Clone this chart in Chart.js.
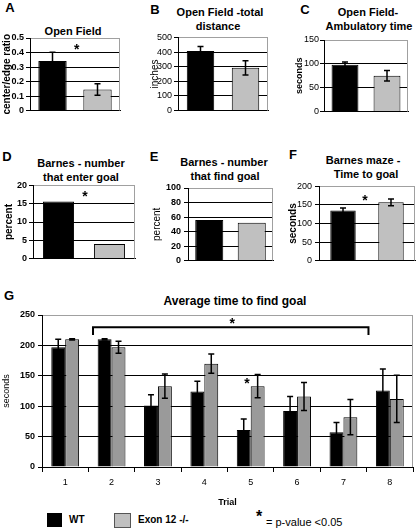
<!DOCTYPE html>
<html><head><meta charset="utf-8">
<script src="https://cdn.jsdelivr.net/npm/chart.js@4.4.1/dist/chart.umd.min.js"></script>
<style>
html,body{margin:0;padding:0;background:#fff;}
body{width:416px;height:530px;position:relative;overflow:hidden;font-family:"Liberation Sans",Arial,sans-serif;color:#000;}
canvas{position:absolute;}
.t{position:absolute;font-weight:bold;font-size:11px;white-space:nowrap;transform:translate(-50%,-50%);line-height:13px;}
.L{position:absolute;font-weight:bold;font-size:13px;transform:translate(-50%,-50%);line-height:14px;}
.lg{position:absolute;font-weight:bold;font-size:10px;white-space:nowrap;transform:translateY(-50%);line-height:12px;}
.sw{position:absolute;}
</style></head><body>

<div class="L" style="left:10px;top:8px">A</div>
<div class="L" style="left:155px;top:10px">B</div>
<div class="L" style="left:305px;top:10px">C</div>
<div class="L" style="left:7px;top:157px">D</div>
<div class="L" style="left:154px;top:157px">E</div>
<div class="L" style="left:293px;top:155px">F</div>
<div class="L" style="left:9px;top:296px">G</div>

<div class="t" style="left:73px;top:31px">Open Field</div>
<div class="t" style="left:220px;top:12px">Open Field -total</div>
<div class="t" style="left:218px;top:26px">distance</div>
<div class="t" style="left:368px;top:12px">Open Field-</div>
<div class="t" style="left:369px;top:26px">Ambulatory time</div>
<div class="t" style="left:81px;top:163px">Barnes - number</div>
<div class="t" style="left:81px;top:177px">that enter goal</div>
<div class="t" style="left:224px;top:162px">Barnes - number</div>
<div class="t" style="left:225px;top:176px">that find goal</div>
<div class="t" style="left:363px;top:160px">Barnes maze -</div>
<div class="t" style="left:366px;top:174px">Time to goal</div>
<div class="t" style="left:235px;top:301px;font-size:12px">Average time to find goal</div>

<canvas id="cA"></canvas>
<canvas id="cB"></canvas>
<canvas id="cC"></canvas>
<canvas id="cD"></canvas>
<canvas id="cE"></canvas>
<canvas id="cF"></canvas>
<canvas id="cG"></canvas>

<div class="sw" style="left:47px;top:513px;width:15px;height:14px;background:#000"></div>
<div class="lg" style="left:69px;top:520px">WT</div>
<div class="sw" style="left:114px;top:513px;width:15px;height:13px;background:#c0c0c0;border:1px solid #555"></div>
<div class="lg" style="left:138px;top:520px">Exon 12 -/-</div>
<div class="lg" style="left:256px;top:517px;font-size:16px;line-height:16px">*</div>
<div class="lg" style="left:266px;top:522px;font-size:11px;font-weight:normal">= p-value &lt;0.05</div>

<script>
// ---------------- data ----------------
const groups = ['WT', 'Exon 12 -/-'];

const openFieldRatio = [0.342, 0.145];
const openFieldRatioErr = [0.06, 0.04];

const openFieldDistance = [407, 292];
const openFieldDistanceErr = [31, 48];

const ambulatoryTime = [98, 75];
const ambulatoryTimeErr = [6, 11];

const barnesEnterGoal = [15.6, 4.0];

const barnesFindGoal = [56, 52];

const barnesTimeToGoal = [135, 157];
const barnesTimeToGoalErr = [7, 9];

const trials = ['1', '2', '3', '4', '5', '6', '7', '8'];
const wtTrialTime  = [197, 210, 101, 124, 61, 92, 57, 126];
const wtTrialErr   = [13, 1, 18, 17, 18, 24, 16, 35];
const koTrialTime  = [210, 197, 133, 170, 133, 116, 82, 112];
const koTrialErr   = [1, 10, 20, 16, 19, 23, 29, 39];

// significance marks: [category index position, value]
const starA = [[0.54, 0.44]];
const starD = [[0.52, 17.7]];
const starF = [[0.46, 169]];
const starG = [[3.6, 241], [3.92, 142]];
const bracketG = { from: 0.6, to: 6.54, level: 230, hook: 217 };

// ---------------- drawing ----------------
Chart.defaults.font.family = '"Liberation Sans", Arial, sans-serif';
Chart.defaults.color = '#000';
Chart.defaults.animation = false;

const BLACK = '#000000', LIGHT = '#c0c0c0', MID = '#9a9a9a', FRAME = '#a0a0a0';

function extras(cfg) {
  return {
    id: 'extras',
    afterDatasetsDraw(chart) {
      const { ctx, chartArea: a, scales: { x, y } } = chart;
      ctx.save();
      ctx.strokeStyle = FRAME; ctx.lineWidth = 1;
      ctx.beginPath(); ctx.moveTo(a.right - 0.5, a.top); ctx.lineTo(a.right - 0.5, a.bottom); ctx.stroke();
      ctx.strokeStyle = '#000';
      const cap = cfg.cap || 3;
      (cfg.errors || []).forEach((errArr, di) => {
        if (!errArr) return;
        const meta = chart.getDatasetMeta(di);
        const vals = chart.data.datasets[di].data;
        meta.data.forEach((bar, j) => {
          const e = errArr[j];
          if (e === undefined) return;
          const yt = y.getPixelForValue(vals[j] + e), yb = y.getPixelForValue(vals[j] - e);
          ctx.lineWidth = 1.5;
          ctx.beginPath();
          ctx.moveTo(bar.x, yt); ctx.lineTo(bar.x, yb);
          ctx.moveTo(bar.x - cap, yt); ctx.lineTo(bar.x + cap, yt);
          ctx.moveTo(bar.x - cap, yb); ctx.lineTo(bar.x + cap, yb);
          ctx.stroke();
        });
      });
      const p0 = x.getPixelForValue(0), p1 = x.getPixelForValue(1);
      const idxPx = i => p0 + i * (p1 - p0);
      (cfg.stars || []).forEach(s => {
        const size = cfg.starSize || 14;
        ctx.fillStyle = '#000';
        ctx.font = 'bold ' + size + 'px "Liberation Sans", Arial, sans-serif';
        ctx.textAlign = 'center'; ctx.textBaseline = 'middle';
        ctx.fillText('*', idxPx(s[0]), y.getPixelForValue(s[1]) + size * 0.23);
      });
      if (cfg.bracket) {
        const b = cfg.bracket;
        const x1 = idxPx(b.from), x2 = idxPx(b.to);
        const yl = y.getPixelForValue(b.level), yh = y.getPixelForValue(b.hook);
        ctx.lineWidth = 2; ctx.strokeStyle = '#000';
        ctx.beginPath();
        ctx.moveTo(x1, yh); ctx.lineTo(x1, yl); ctx.lineTo(x2, yl); ctx.lineTo(x2, yh);
        ctx.stroke();
      }
      ctx.restore();
    }
  };
}

function place(id, box) {
  const cv = document.getElementById(id);
  const w = box.cr - box.cl, h = box.cb - box.ct;
  cv.width = w; cv.height = h;
  cv.style.left = box.cl + 'px'; cv.style.top = box.ct + 'px';
  cv.style.width = w + 'px'; cv.style.height = h + 'px';
  return cv;
}

function yGrid(max) {
  return {
    color: c => (c.tick && Math.abs(c.tick.value - max) < 1e-9) ? FRAME : '#000',
    tickColor: '#000', tickLength: 4, lineWidth: 1
  };
}

function smallPanel(id, box, values, errs, o) {
  const cv = place(id, box);
  const tsz = o.titleSize || 9;
  const lh = tsz * 1.2;
  new Chart(cv, {
    type: 'bar',
    data: {
      labels: groups,
      datasets: [{ data: values, backgroundColor: [BLACK, LIGHT], borderColor: '#000', borderWidth: 1,
                   barPercentage: o.bp, categoryPercentage: 1 }]
    },
    options: {
      responsive: false, animation: false, events: [],
      layout: { autoPadding: false, padding: { left: 0, top: box.t - box.ct, right: box.cr - box.r, bottom: box.cb - box.b } },
      plugins: { legend: { display: false }, tooltip: { enabled: false } },
      scales: {
        x: { grid: { display: false }, ticks: { display: false }, border: { color: '#000', width: 1 },
             afterFit: s => { s.height = 0; } },
        y: { min: 0, max: o.max,
             ticks: { stepSize: o.step, font: { size: 9, weight: o.tickBold ? 'bold' : 'normal' }, padding: o.tp },
             grid: yGrid(o.max), border: { color: '#000', width: 1 },
             title: { display: true, text: o.title, font: { size: tsz, weight: o.titleBold ? 'bold' : 'normal' },
                      padding: { top: o.titleX - box.cl - lh / 2, bottom: 0 } },
             afterFit: s => { s.width = box.l - box.cl; } }
      }
    },
    plugins: [extras({ errors: errs ? [errs] : [], stars: o.stars, cap: 3, starSize: 14 })]
  });
}

smallPanel('cA', { cl: 0, ct: 30, cr: 124, cb: 118, l: 30, t: 38, r: 120, b: 116 },
  openFieldRatio, openFieldRatioErr,
  { max: 0.5, step: 0.1, bp: 0.63, tp: 2, tickBold: true, title: 'center/edge ratio', titleSize: 10, titleBold: true, titleX: 7, stars: starA });

smallPanel('cB', { cl: 135, ct: 30, cr: 272, cb: 118, l: 178, t: 37, r: 268, b: 116 },
  openFieldDistance, openFieldDistanceErr,
  { max: 500, step: 100, bp: 0.61, tp: 2, title: 'inches', titleSize: 10, titleX: 155 });

smallPanel('cC', { cl: 270, ct: 30, cr: 412, cb: 118, l: 324, t: 40, r: 408, b: 115 },
  ambulatoryTime, ambulatoryTimeErr,
  { max: 150, step: 50, bp: 0.64, tp: 1, title: 'seconds', titleBold: true, titleX: 300 });

smallPanel('cD', { cl: 0, ct: 178, cr: 139, cb: 266, l: 33, t: 185, r: 135, b: 264 },
  barnesEnterGoal, null,
  { max: 20, step: 5, bp: 0.61, tp: 2, tickBold: true, title: 'percent', titleSize: 10, titleBold: true, titleX: 9, stars: starD });

smallPanel('cE', { cl: 135, ct: 178, cr: 276, cb: 269, l: 188, t: 188, r: 273, b: 267 },
  barnesFindGoal, null,
  { max: 100, step: 20, bp: 0.66, tp: 3, tickBold: true, title: 'percent', titleSize: 10, titleX: 157 });

smallPanel('cF', { cl: 270, ct: 178, cr: 416, cb: 269, l: 319, t: 183, r: 415, b: 267 },
  barnesTimeToGoal, barnesTimeToGoalErr,
  { max: 200, step: 50, bp: 0.53, tp: 3, title: 'seconds', titleSize: 10, titleBold: true, titleX: 293, stars: starF });

// Panel G
(function () {
  const box = { cl: 0, ct: 300, cr: 416, cb: 508, l: 42, t: 315, r: 413, b: 467 };
  const xH = 41;
  const cv = place('cG', box);
  new Chart(cv, {
    type: 'bar',
    data: {
      labels: trials,
      datasets: [
        { label: 'WT', data: wtTrialTime, backgroundColor: BLACK, borderColor: '#000', borderWidth: 1 },
        { label: 'Exon 12 -/-', data: koTrialTime, backgroundColor: MID, borderColor: '#000', borderWidth: 1 }
      ]
    },
    options: {
      responsive: false, animation: false, events: [],
      datasets: { bar: { categoryPercentage: 0.6, barPercentage: 1 } },
      layout: { autoPadding: false, padding: { left: 0, top: box.t - box.ct, right: box.cr - box.r, bottom: box.cb - box.b - xH } },
      plugins: { legend: { display: false }, tooltip: { enabled: false } },
      scales: {
        x: { grid: { drawOnChartArea: false, drawTicks: true, tickLength: 5, color: '#000', offset: true },
             border: { color: '#000', width: 1 },
             ticks: { font: { size: 9 }, padding: 5 },
             title: { display: true, text: 'Trial', font: { size: 9, weight: 'bold' }, padding: { top: 0, bottom: 0 } },
             afterFit: s => { s.height = xH; } },
        y: { min: 0, max: 250,
             ticks: { stepSize: 50, font: { size: 9, weight: 'bold' }, padding: 3 },
             grid: yGrid(250), border: { color: '#000', width: 1 },
             title: { display: true, text: 'seconds', font: { size: 9 }, padding: { top: 7 - 5.4, bottom: 0 } },
             afterFit: s => { s.width = box.l - box.cl; } }
      }
    },
    plugins: [extras({ errors: [wtTrialErr, koTrialErr], stars: starG, bracket: bracketG, cap: 3, starSize: 14 })]
  });
})();
</script>
</body></html>
